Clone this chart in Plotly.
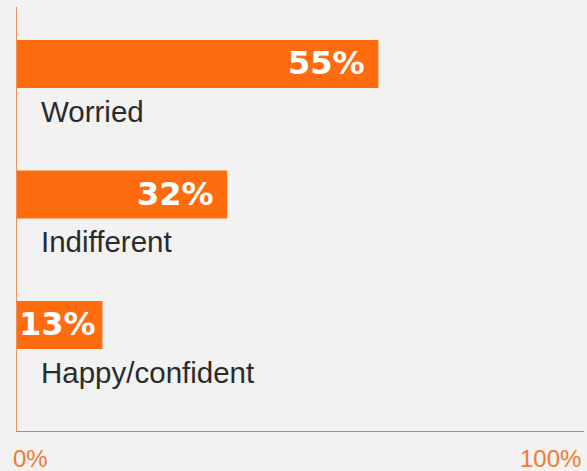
import plotly.graph_objects as go

categories = ["Worried", "Indifferent", "Happy/confident"]
values = [55, 32, 13]
value_labels = ["55%", "32%", "13%"]
axis_labels = ["0%", "100%"]

ORANGE = "#ff6b0f"
BG = "#f1f2f1"

fig = go.Figure()
fig.add_trace(go.Bar(
    x=values, y=categories, orientation="h",
    marker=dict(color=ORANGE, line=dict(width=0)),
    hoverinfo="skip",
))

annotations = []
for cat, v, lab in zip(categories, values, value_labels):
    annotations.append(dict(
        x=v, y=cat, xref="x", yref="y", text=lab, showarrow=False,
        xanchor="right", yanchor="middle", xshift=-11 if v > 20 else -4, yshift=1,
        font=dict(family="DejaVu Sans", size=32, color="white", weight="bold"),
    ))
    annotations.append(dict(
        x=0, y=cat, xref="x", yref="y", text=cat, showarrow=False,
        xanchor="left", yanchor="middle", xshift=22, yshift=-47,
        font=dict(family="Liberation Sans", size=29.5, color="#2b2b2b"),
    ))

annotations.append(dict(
    x=0, y=0, xref="paper", yref="paper", text=axis_labels[0], showarrow=False,
    xanchor="left", yanchor="middle", xshift=-6, yshift=-27,
    font=dict(family="Liberation Sans", size=24, color="#f27a2e"),
))
annotations.append(dict(
    x=1, y=0, xref="paper", yref="paper", text=axis_labels[1], showarrow=False,
    xanchor="right", yanchor="middle", xshift=-1, yshift=-27,
    font=dict(family="Liberation Sans", size=24, color="#f27a2e"),
))

fig.update_layout(
    width=587, height=471,
    margin=dict(l=17, r=3, t=7, b=40),
    paper_bgcolor=BG, plot_bgcolor=BG,
    showlegend=False,
    bargap=0.632,
    annotations=annotations,
    xaxis=dict(range=[0, 86.3], showgrid=False, zeroline=False, showticklabels=False,
               showline=True, linecolor="#f47a2a", linewidth=1, ticks="", fixedrange=True),
    yaxis=dict(type="category", range=[2.812, -0.437], showgrid=False, zeroline=False,
               showticklabels=False, showline=True, linecolor="#f0905a", linewidth=1,
               ticks="", fixedrange=True),
)

fig.write_html("out.html")
